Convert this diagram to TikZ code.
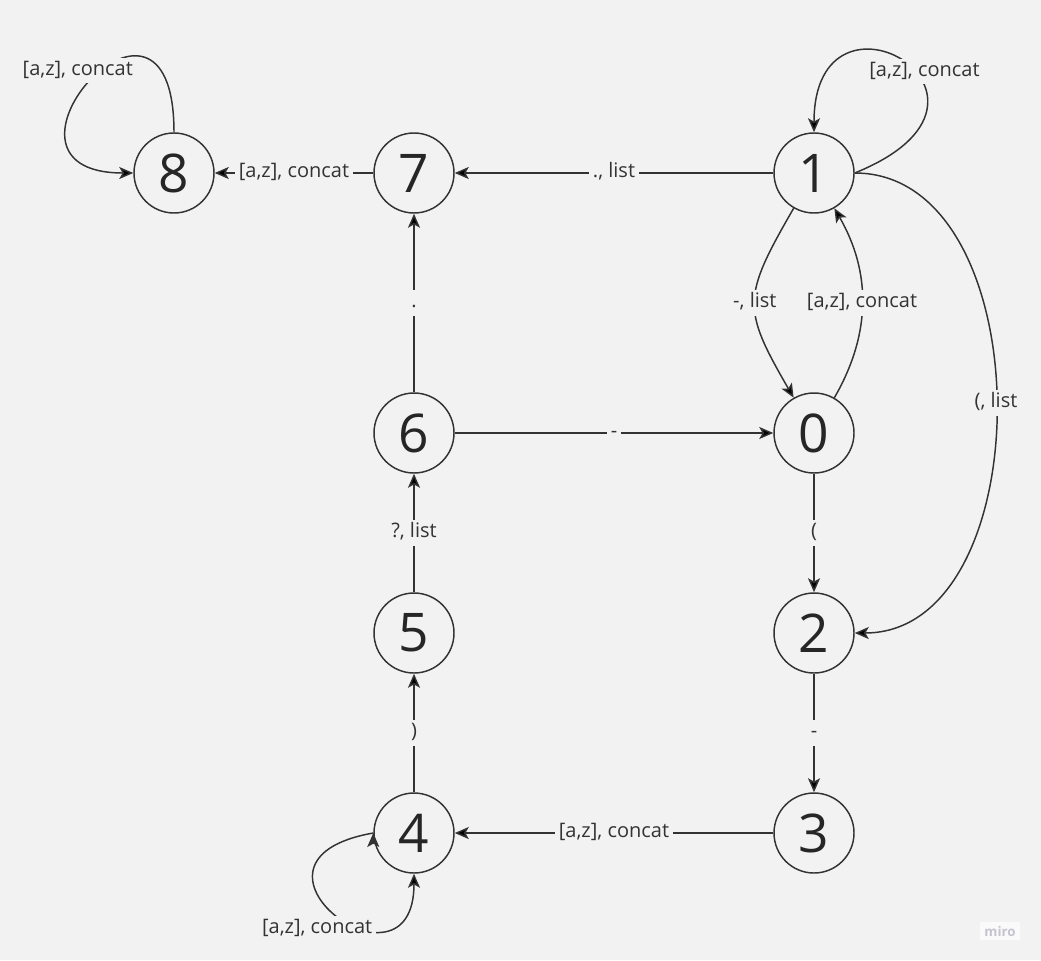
\documentclass[tikz,border=0pt]{standalone}
\usepackage{fontspec}
\setmainfont{Open Sans}
\usepackage{xcolor}
\definecolor{background}{RGB}{242,242,242}
\definecolor{ink}{RGB}{51,51,51}
\definecolor{mark}{RGB}{196,196,206}
\usepackage{tikz}
\usetikzlibrary{positioning}
\usetikzlibrary{arrows.meta}

\begin{document}
\begin{tikzpicture}[x=0.75pt,y=-0.75pt,node distance=150pt,on grid,
	every node/.style={text=ink},
	stnode/.style={circle,draw=ink,line width=1.1pt,minimum size=60pt,inner sep=0,font=\fontsize{40}{48}\selectfont,text=black!85},
	lbl/.style={fill=background,inner sep=3pt,text height=10pt,text depth=3pt,font=\fontsize{15}{18}\selectfont},
	>={Stealth[length=10.5pt,width=9pt,inset=2.5pt]}]
	\useasboundingbox[fill=background] (0,0) rectangle (1041,960);
	\node[stnode] (q1) at (814,173) {1};
	\node[stnode] (q7) [left=300pt of q1] {7};
	\node[stnode] (q8) [left=180pt of q7] {8};
	\node[stnode] (q0) [below=195pt of q1] {0};
	\node[stnode] (q6) [below=195pt of q7] {6};
	\node[stnode] (q2) [below=of q0] {2};
	\node[stnode] (q5) [below=of q6] {5};
	\node[stnode] (q3) [below=of q2] {3};
	\node[stnode] (q4) [below=of q5] {4};
	\path[->,draw=ink,line width=1.1pt]
		(q1) edge node[lbl] {., list} (q7)
		(q7) edge node[lbl] {[a,z], concat} (q8)
		(q6) edge node[lbl] {.} (q7)
		(q6) edge node[lbl] {-} (q0)
		(q0) edge node[lbl] {(} (q2)
		(q2) edge node[lbl] {-} (q3)
		(q3) edge node[lbl] {[a,z], concat} (q4)
		(q4) edge node[lbl] {)} (q5)
		(q5) edge node[lbl] {?, list} (q6)
		(q1) edge[out=-120,in=120,looseness=1.4] node[lbl] {-, list} (q0)
		(q0) edge[out=60,in=-60] node[lbl] {[a,z], concat} (q1)
		(q1) edge[out=0,in=0,looseness=1.05] node[lbl] {(, list} (q2)
		(q8) edge[out=90,in=180,out distance=145pt,in distance=125pt] node[lbl,xshift=-10pt,yshift=7pt] {[a,z], concat} (q8)
		(q1.east) edge[out=22,in=90,out distance=150pt,in distance=125pt] node[lbl,pos=.4,xshift=3pt,yshift=5pt] {[a,z], concat} (q1)
		(q4.west) edge[out=190,in=-90,out distance=120pt,in distance=100pt] node[lbl,xshift=-13pt,yshift=-11pt] {[a,z], concat} (q4);
	% watermark
	\node[fill=white!60!background,text=mark,inner sep=3pt,font=\bfseries\fontsize{10}{12}\selectfont] (miro) at (1000,931) {miro};
\end{tikzpicture}
\end{document}
